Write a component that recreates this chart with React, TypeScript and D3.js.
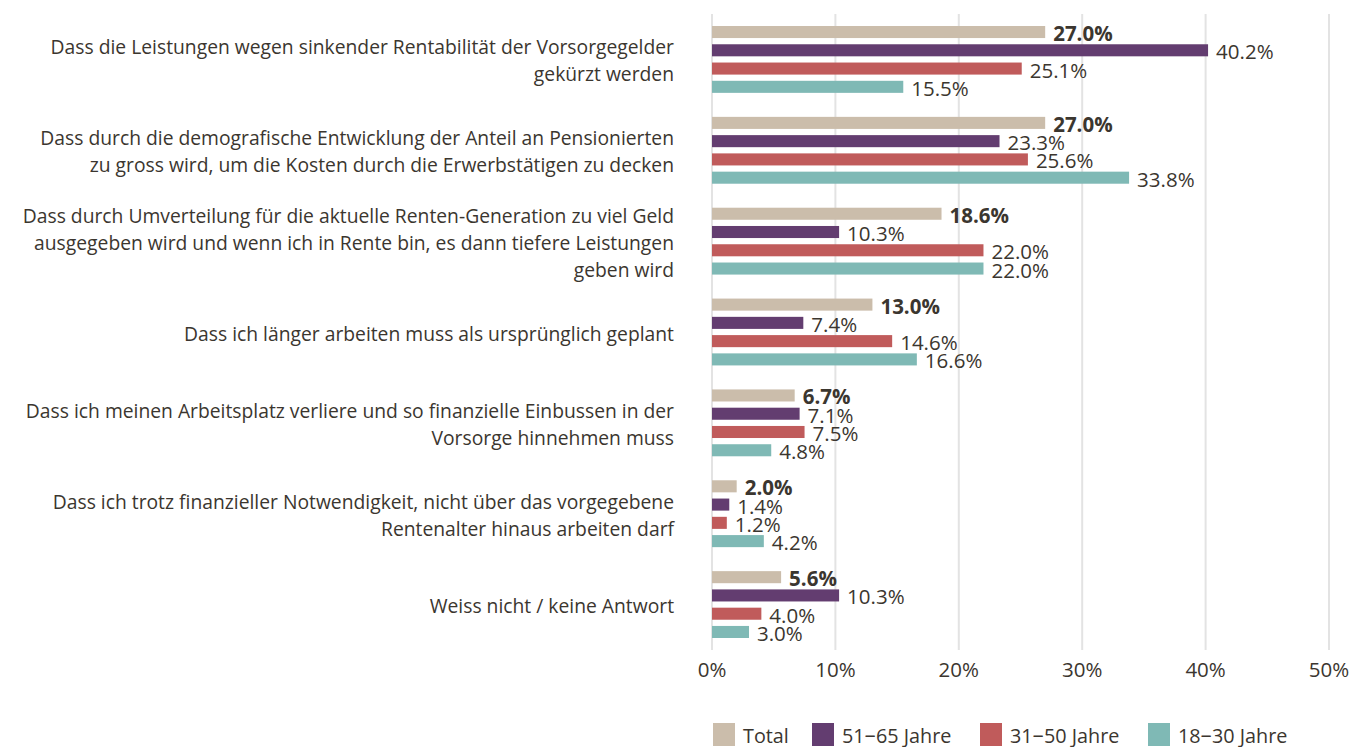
import React from "react";
import * as d3 from "d3";

const categories: string[][] = [
  ["Dass die Leistungen wegen sinkender Rentabilität der Vorsorgegelder", "gekürzt werden"],
  ["Dass durch die demografische Entwicklung der Anteil an Pensionierten", "zu gross wird, um die Kosten durch die Erwerbstätigen zu decken"],
  ["Dass durch Umverteilung für die aktuelle Renten-Generation zu viel Geld", "ausgegeben wird und wenn ich in Rente bin, es dann tiefere Leistungen", "geben wird"],
  ["Dass ich länger arbeiten muss als ursprünglich geplant"],
  ["Dass ich meinen Arbeitsplatz verliere und so finanzielle Einbussen in der", "Vorsorge hinnehmen muss"],
  ["Dass ich trotz finanzieller Notwendigkeit, nicht über das vorgegebene", "Rentenalter hinaus arbeiten darf"],
  ["Weiss nicht / keine Antwort"],
];

const seriesNames = ["Total", "51\u221265 Jahre", "31\u221250 Jahre", "18\u221230 Jahre"];
const seriesColors = ["#cbbdab", "#633d70", "#c05b5b", "#7fb9b5"];

const total = [27.0, 27.0, 18.6, 13.0, 6.7, 2.0, 5.6];
const age51_65 = [40.2, 23.3, 10.3, 7.4, 7.1, 1.4, 10.3];
const age31_50 = [25.1, 25.6, 22.0, 14.6, 7.5, 1.2, 4.0];
const age18_30 = [15.5, 33.8, 22.0, 16.6, 4.8, 4.2, 3.0];
const seriesValues = [total, age51_65, age31_50, age18_30];

const xTicks = [0, 10, 20, 30, 40, 50];

const FONT = "'Open Sans', 'Noto Sans', sans-serif";
const TEXT = "#3b362f";

export default function App() {
  const W = 1352, H = 747;
  const x = d3.scaleLinear().domain([0, 50]).range([712, 1329]);
  const y0 = d3.scaleBand<number>().domain(d3.range(categories.length)).range([14, 650]).paddingInner(0).paddingOuter(0);
  const gh = y0.bandwidth();
  const y1 = d3.scaleBand<number>().domain(d3.range(4)).range([12, gh - 12]).paddingInner(0.34).paddingOuter(0);
  const lineH = 27;

  const legendX = [713, 812, 980, 1148];

  return (
    <svg width={W} height={H} style={{ position: "absolute", left: 0, top: 0, background: "#fff" }} fontFamily={FONT}>
      {xTicks.map((t) => (
        <line key={t} x1={x(t)} x2={x(t)} y1={14} y2={650} stroke="#e3e3e3" strokeWidth={2} />
      ))}
      {xTicks.map((t) => (
        <text key={"t" + t} x={x(t)} y={669} textAnchor="middle" dominantBaseline="central" fontSize={20.5} fill={TEXT}>
          {t}%
        </text>
      ))}
      {categories.map((lines, i) => {
        const cy = (y0(i) as number) + gh / 2 + 1;
        return (
          <g key={i}>
            {lines.map((l, j) => (
              <text key={j} x={674} y={cy + (j - (lines.length - 1) / 2) * lineH} textAnchor="end" dominantBaseline="central" fontSize={19.3} fill={TEXT}>
                {l}
              </text>
            ))}
            {seriesValues.map((vals, s) => {
              const by = (y0(i) as number) + (y1(s) as number);
              const bh = y1.bandwidth();
              return (
                <g key={s}>
                  <rect x={x(0)} y={by} width={x(vals[i]) - x(0)} height={bh} fill={seriesColors[s]} />
                  <text x={x(vals[i]) + 8} y={by + bh / 2 + 1} dominantBaseline="central" fontSize={20.5} fontWeight={s === 0 ? 700 : 400} fill={TEXT}>
                    {vals[i].toFixed(1)}%
                  </text>
                </g>
              );
            })}
          </g>
        );
      })}
      {seriesNames.map((n, s) => (
        <g key={n}>
          <rect x={legendX[s]} y={723} width={22} height={23} fill={seriesColors[s]} />
          <text x={legendX[s] + 30} y={735} dominantBaseline="central" fontSize={19.8} fill={TEXT}>
            {n}
          </text>
        </g>
      ))}
    </svg>
  );
}
